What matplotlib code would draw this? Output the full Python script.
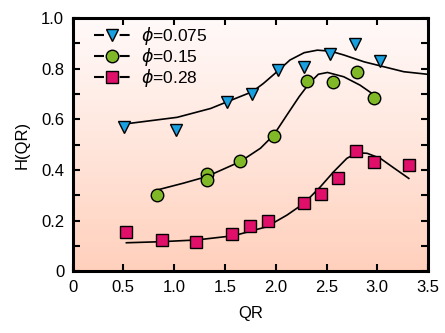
import numpy as np
import matplotlib
matplotlib.use("Agg")
import matplotlib.pyplot as plt
from matplotlib.colors import LinearSegmentedColormap
from matplotlib.lines import Line2D
from matplotlib.ticker import MultipleLocator

plt.rcParams['font.family'] = ['Liberation Sans', 'DejaVu Sans']

# measured points, phi = 0.075
qr_a = [0.51, 1.02, 1.52, 1.77, 2.02, 2.28, 2.53, 2.78, 3.03]
h_a = [0.571, 0.558, 0.670, 0.700, 0.794, 0.808, 0.856, 0.897, 0.831]
# phi = 0.15
qr_b = [0.83, 1.32, 1.32, 1.65, 1.98, 2.31, 2.56, 2.80, 2.97]
h_b = [0.301, 0.384, 0.360, 0.434, 0.534, 0.752, 0.746, 0.785, 0.683]
# phi = 0.28
qr_c = [0.53, 0.88, 1.22, 1.57, 1.75, 1.92, 2.28, 2.45, 2.61, 2.79, 2.97, 3.31]
h_c = [0.157, 0.124, 0.117, 0.148, 0.180, 0.199, 0.271, 0.305, 0.368, 0.475, 0.432, 0.420]

# model curves
fit_qr_a = [0.50, 1.03, 1.36, 1.52, 1.77, 1.88, 2.03, 2.14, 2.28, 2.41, 2.54, 2.67, 2.87, 3.06, 3.26, 3.49]
fit_h_a = [0.581, 0.608, 0.643, 0.669, 0.709, 0.742, 0.794, 0.834, 0.863, 0.873, 0.869, 0.854, 0.827, 0.808, 0.788, 0.778]
fit_qr_b = [0.83, 1.09, 1.32, 1.65, 1.85, 1.98, 2.11, 2.23, 2.33, 2.42, 2.51, 2.67, 2.83, 2.97]
fit_h_b = [0.321, 0.348, 0.374, 0.433, 0.486, 0.538, 0.617, 0.689, 0.742, 0.778, 0.785, 0.768, 0.735, 0.696]
fit_qr_c = [0.53, 0.86, 1.22, 1.59, 1.91, 2.11, 2.28, 2.44, 2.57, 2.70, 2.80, 2.90, 3.03, 3.16, 3.31]
fit_h_c = [0.113, 0.117, 0.124, 0.141, 0.176, 0.222, 0.269, 0.334, 0.393, 0.446, 0.468, 0.466, 0.446, 0.409, 0.367]

labels = [r'$\phi$=0.075', r'$\phi$=0.15', r'$\phi$=0.28']
face = ['#18a0e0', '#80b828', '#e0106a']
shapes = ['v', 'o', 's']
msizes = [9, 9, 8]

fig = plt.figure(figsize=(4.45, 3.33), dpi=100)
ax = fig.add_axes([0.163, 0.185, 0.799, 0.761])

# white at the top fading to peach at the bottom
bg = LinearSegmentedColormap.from_list('bg', ['#fffafa', '#ffe6dc', '#ffd0bc'])
grad = np.linspace(1, 0, 256).reshape(-1, 1)
ax.imshow(grad, cmap=bg, aspect='auto', extent=[0, 3.5, 0, 1.0],
          origin='lower', zorder=0)

for fx, fy in [(fit_qr_a, fit_h_a), (fit_qr_b, fit_h_b), (fit_qr_c, fit_h_c)]:
    ax.plot(fx, fy, color='black', lw=1.2, zorder=2)

for (x, y), m, fc, ms in zip([(qr_a, h_a), (qr_b, h_b), (qr_c, h_c)], shapes, face, msizes):
    ax.plot(x, y, m, ms=ms, mfc=fc, mec='black', mew=1.0, ls='none', zorder=3)

handles = [Line2D([], [], marker=m, ms=ms, mfc=fc, mec='black', mew=1.0,
                  color='black', lw=1.5, ls=(0, (4.8, 7.5)))
           for m, fc, ms in zip(shapes, face, msizes)]
ax.legend(handles, labels, loc='upper left', frameon=False, fontsize=12.5,
          handlelength=2.1, handletextpad=0.6, labelspacing=-0.05,
          borderaxespad=0.0, bbox_to_anchor=(0.04, 1.0))

ax.set_xlim(0, 3.5)
ax.set_ylim(0, 1.0)
ax.set_xticks(np.arange(0, 3.51, 0.5))
ax.set_xticklabels(['0', '0.5', '1.0', '1.5', '2.0', '2.5', '3.0', '3.5'])
ax.set_yticks(np.arange(0, 1.01, 0.2))
ax.set_yticklabels(['0', '0.2', '0.4', '0.6', '0.8', '1.0'])
ax.yaxis.set_minor_locator(MultipleLocator(0.1))
ax.tick_params(which='both', direction='in', top=True, right=True,
               length=5, width=1.5, labelsize=12, pad=6)

for s in ax.spines.values():
    s.set_linewidth(2.2)

ax.set_xlabel('QR', fontsize=12, labelpad=8)
ax.set_ylabel('H(QR)', fontsize=12, labelpad=8)

fig.savefig('out.png', dpi=100)
